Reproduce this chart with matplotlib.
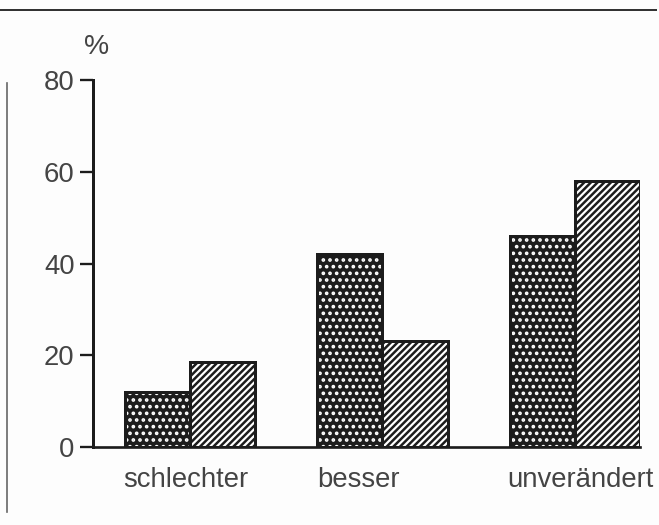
import numpy as np
import matplotlib
matplotlib.use("Agg")
import matplotlib.pyplot as plt
from matplotlib.lines import Line2D

# data
categories = ["schlechter", "besser", "unverändert"]
dotted = [12, 42, 46]
striped = [18.5, 23, 58]
yticks = [0, 20, 40, 60, 80]

plt.rcParams['font.family'] = ['Liberation Sans', 'DejaVu Sans']

DPI = 120
fig = plt.figure(figsize=(659 / DPI, 525 / DPI), dpi=DPI, facecolor='#fdfdfd')
ax = fig.add_axes([93 / 659, 1 - 447 / 525, (640 - 93) / 659, (447 - 80) / 525])
ax.set_facecolor('#fdfdfd')

x = np.arange(len(categories))
w = 0.338
ink = '#1c1c1c'
txt = '#444444'

# dotted bars: dark fill with white dots, then black outline on top
with plt.rc_context({'hatch.linewidth': 1.4}):
    ax.bar(x - w / 2, dotted, w, color=ink, edgecolor='white', hatch='...', linewidth=0, zorder=2)
ax.bar(x - w / 2, dotted, w, fill=False, edgecolor=ink, linewidth=1.8, zorder=3)
# striped bars
with plt.rc_context({'hatch.linewidth': 1.5}):
    ax.bar(x + w / 2, striped, w, color='white', edgecolor=ink, hatch='//////', linewidth=1.8, zorder=3)

ax.set_xlim(-0.504, 2.338)
ax.set_ylim(0, 80)

for s in ['top', 'right']:
    ax.spines[s].set_visible(False)
ax.spines['left'].set_linewidth(1.8)
ax.spines['bottom'].set_linewidth(1.6)
ax.spines['left'].set_color(ink)
ax.spines['bottom'].set_color(ink)

ax.set_yticks(yticks)
ax.tick_params(axis='y', length=8, width=1.4, color=ink, labelsize=16.5, labelcolor=txt, pad=3)
ax.set_xticks([])

# category labels sit slightly off the group centres in the original
label_dx = [-0.02, -0.125, 0.03]
for xi, lab, dx in zip(x, categories, label_dx):
    ax.annotate(lab, xy=(xi + dx, 0), xycoords=('data', 'axes fraction'),
                xytext=(0, -12), textcoords='offset points',
                ha='center', va='top', fontsize=16.5, color=txt)

ax.annotate('%', xy=(0, 1), xycoords='axes fraction', xytext=(2, 12),
            textcoords='offset points', ha='center', va='bottom',
            fontsize=17, color=txt)

# frame lines of the scanned page
fig.add_artist(Line2D([0, 0.995], [1 - 10 / 525] * 2, color='#333333', lw=1.2))
fig.add_artist(Line2D([7 / 659] * 2, [1 - 83 / 525, 1 - 512 / 525], color='#666666', lw=1.0))

fig.savefig('out.png', dpi=DPI, facecolor=fig.get_facecolor())
